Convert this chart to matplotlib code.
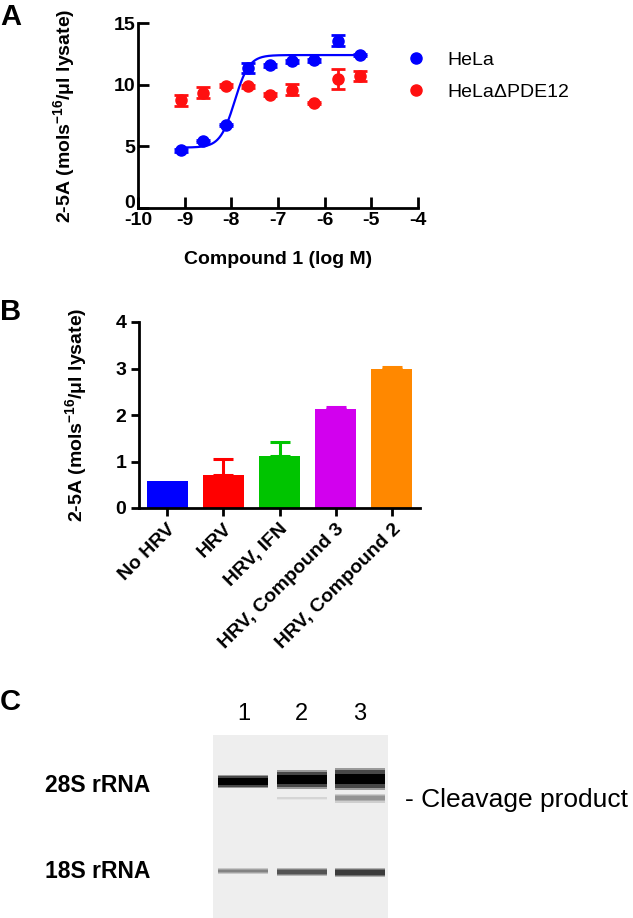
import numpy as np
import matplotlib
matplotlib.use("Agg")
import matplotlib.pyplot as plt
import matplotlib.transforms as mtransforms
from matplotlib.lines import Line2D

plt.rcParams["font.family"] = ["Liberation Sans", "DejaVu Sans"]
plt.rcParams["axes.unicode_minus"] = False
plt.rcParams["mathtext.fontset"] = "custom"
plt.rcParams["mathtext.rm"] = "Liberation Sans:bold"
plt.rcParams["mathtext.bf"] = "Liberation Sans:bold"
plt.rcParams["mathtext.default"] = "bf"

# ---- panel A: 2-5A vs compound 1 ----
log_conc = [-9.08, -8.60, -8.12, -7.65, -7.17, -6.69, -6.22, -5.72, -5.25]
hela = [4.68, 5.43, 6.72, 11.35, 11.56, 11.88, 11.96, 13.57, 12.42]
hela_err = [0.1, 0.1, 0.1, 0.4, 0.1, 0.1, 0.1, 0.45, 0.1]
hela_ko = [8.72, 9.33, 9.92, 9.87, 9.19, 9.60, 8.52, 10.45, 10.73]
hela_ko_err = [0.45, 0.45, 0.1, 0.1, 0.1, 0.45, 0.1, 0.8, 0.4]
# four-parameter fit for HeLa (bottom, top, logEC50, hill)
fit_bottom, fit_top, fit_logec50, fit_hill = 4.9, 12.4, -7.93, 2.8

# ---- panel B: bars ----
conditions = ["No HRV", "HRV", "HRV, IFN", "HRV, Compound 3", "HRV, Compound 2"]
bar_vals = [0.59, 0.72, 1.12, 2.12, 2.98]
bar_err = [0.0, 0.34, 0.29, 0.06, 0.06]
bar_colors = ["#0000ff", "#ff0000", "#00c400", "#d200ee", "#ff8800"]

# ---- panel C: gel lanes ----
lanes = [1, 2, 3]
band_names = ["28S rRNA", "Cleavage", "18S rRNA"]
band_pos = [[46.5, 44.5, 44.0], [63.0, 63.0, 63.0], [136.0, 137.0, 137.5]]
band_thick = [[9, 13, 15], [2, 2, 6], [4, 5, 6]]
band_dark = [[1.0, 1.0, 1.0], [0.0, 0.1, 0.38], [0.45, 0.65, 0.75]]

W, H = 633, 918
fig = plt.figure(figsize=(W / 100, H / 100), dpi=100)


def fx(px):
    return px / W


def fy(py):
    return 1 - py / H


ylab = "2-5A (mols$^{-16}$/μl lysate)"

# ---------------- A ----------------
axA = fig.add_axes([fx(138), fy(208), fx(418 - 138), (208 - 23) / H])
blue, red = "#0000ff", "#ff1010"
xs = np.linspace(log_conc[0], log_conc[-1], 300)
curve = fit_bottom + (fit_top - fit_bottom) / (1 + 10 ** ((fit_logec50 - xs) * fit_hill))
axA.plot(xs, curve, color=blue, lw=1.6, zorder=2)
axA.errorbar(log_conc, hela, yerr=hela_err, fmt="o", color=blue, ms=8,
             capsize=5, elinewidth=2, capthick=2, clip_on=False, zorder=3)
axA.errorbar(log_conc, hela_ko, yerr=hela_ko_err, fmt="o", color=red, ms=8,
             capsize=5, elinewidth=2, capthick=2, clip_on=False, zorder=3)
axA.set_xlim(-10, -4)
axA.set_ylim(0, 15)
axA.set_xticks(range(-10, -3))
axA.set_yticks([0, 5, 10, 15])
axA.tick_params(direction="in", length=8, width=2, labelsize=14, pad=2)
axA.tick_params(axis="x", pad=3)
for lab in axA.get_xticklabels() + axA.get_yticklabels():
    lab.set_fontweight("bold")
# lift the "0" label a little so it clears the "-10" below it
zero_lab = axA.get_yticklabels()[0]
zero_lab.set_transform(zero_lab.get_transform() +
                       mtransforms.ScaledTranslation(0, 6 / 100, fig.dpi_scale_trans))
for s in ["top", "right"]:
    axA.spines[s].set_visible(False)
for s in ["left", "bottom"]:
    axA.spines[s].set_linewidth(2)
axA.set_xlabel("Compound 1 (log M)", fontsize=14, fontweight="bold", labelpad=16)
axA.set_ylabel(ylab, fontsize=14, fontweight="bold", labelpad=26)

handles = [Line2D([], [], ls="none", marker="o", ms=8, color=blue),
           Line2D([], [], ls="none", marker="o", ms=8, color=red)]
fig.legend(handles, ["HeLa", "HeLaΔPDE12"], loc="upper left",
           bbox_to_anchor=(fx(387), fy(34)), frameon=False, fontsize=14,
           handlelength=1.2, handletextpad=1.0, labelspacing=0.75)

# ---------------- B ----------------
axB = fig.add_axes([fx(139), fy(508), fx(420 - 139), (508 - 322) / H])
xpos = np.arange(len(conditions))
axB.bar(xpos, bar_vals, width=0.73, color=bar_colors, zorder=2)
for x, v, e, c in zip(xpos, bar_vals, bar_err, bar_colors):
    if e > 0:
        axB.errorbar([x], [v], yerr=[[0], [e]], fmt="none", ecolor=c,
                     elinewidth=2.2, capsize=7, capthick=2.2, zorder=1)
axB.set_xlim(-0.5, 4.5)
axB.set_ylim(0, 4)
axB.set_yticks(range(0, 5))
axB.set_xticks(xpos)
axB.set_xticklabels(conditions, rotation=45, ha="right", rotation_mode="anchor")
axB.tick_params(direction="out", length=6, width=2, labelsize=14, pad=3)
for lab in axB.get_xticklabels() + axB.get_yticklabels():
    lab.set_fontweight("bold")
for s in ["top", "right"]:
    axB.spines[s].set_visible(False)
for s in ["left", "bottom"]:
    axB.spines[s].set_linewidth(2)
axB.set_ylabel(ylab, fontsize=14, fontweight="bold", labelpad=19)

# ---------------- C ----------------
axC = fig.add_axes([fx(213), 0, fx(388 - 213), (918 - 735) / H])
axC.set_facecolor("#eeeeee")
axC.set_xlim(0.48, 3.48)
axC.set_ylim(183, 0)
for pos_row, th_row, dk_row in zip(band_pos, band_thick, band_dark):
    for lane, pos, th, dk in zip(lanes, pos_row, th_row, dk_row):
        if dk <= 0:
            continue
        # soft halo then darker core
        for scale, frac in [(1.5, 0.35), (1.15, 0.7), (0.7, 1.0)]:
            g = 0.93 - 0.93 * dk * frac
            axC.bar(lane, th * scale, bottom=pos - th * scale / 2, width=0.86,
                    color=str(max(g, 0.0)), linewidth=0)
axC.set_xticks([])
axC.set_yticks([])
for s in axC.spines.values():
    s.set_visible(False)
for lane in lanes:
    axC.text(lane, -21, str(lane), ha="center", va="center", fontsize=17,
             clip_on=False)

fig.text(fx(45), fy(785), band_names[0], fontsize=16.5, fontweight="bold",
         va="center", ha="left")
fig.text(fx(45), fy(871), band_names[2], fontsize=16.5, fontweight="bold",
         va="center", ha="left")
fig.text(fx(405), fy(800), "- Cleavage product", fontsize=19, va="center",
         ha="left")

for lbl, py in [("A", 17), ("B", 312), ("C", 702)]:
    fig.text(0.0, fy(py), lbl, fontsize=21, fontweight="bold", va="center",
             ha="left")

fig.savefig("out.png", dpi=100, facecolor="white")
